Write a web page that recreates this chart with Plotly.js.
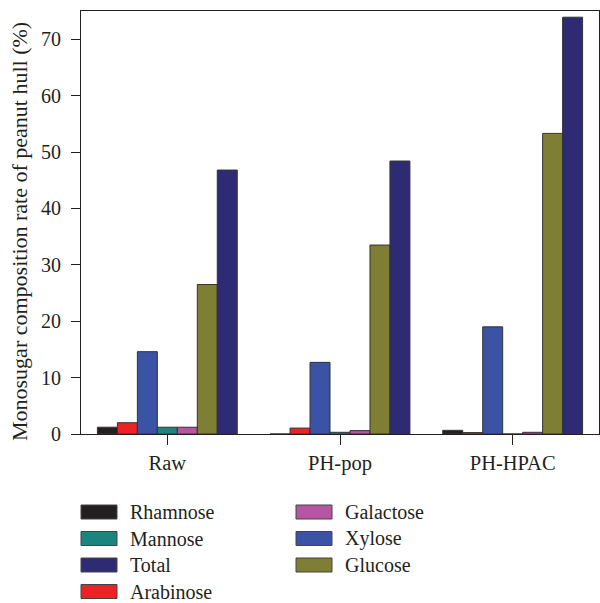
<!DOCTYPE html>
<html>
<head>
<meta charset="utf-8">
<script src="https://cdn.plot.ly/plotly-3.0.1.min.js"></script>
<style>html,body{margin:0;padding:0;background:#fff;}#chart{width:600px;height:603px;}</style>
</head>
<body>
<div id="chart"></div>
<script>
// ---- data ----
var groups = ["Raw", "PH-pop", "PH-HPAC"];
var seriesNames = ["Rhamnose", "Arabinose", "Xylose", "Mannose", "Galactose", "Glucose", "Total"];
var rhamnose  = [1.2, 0.0, 0.65];
var arabinose = [2.0, 1.05, 0.25];
var xylose    = [14.6, 12.7, 19.0];
var mannose   = [1.2, 0.3, 0.0];
var galactose = [1.2, 0.6, 0.3];
var glucose   = [26.5, 33.5, 53.3];
var total     = [46.8, 48.4, 73.9];
var seriesValues = [rhamnose, arabinose, xylose, mannose, galactose, glucose, total];
var seriesColors = ["#231f20", "#ec2227", "#3a53a4", "#1c847c", "#b655a3", "#7e7e34", "#2e2b74"];
var legendCol1 = ["Rhamnose", "Mannose", "Total", "Arabinose"];
var legendCol2 = ["Galactose", "Xylose", "Glucose"];
var yTicks = [0, 10, 20, 30, 40, 50, 60, 70];
var yTitle = "Monosugar composition rate of peanut hull (%)";

// ---- layout constants ----
var W = 600, H = 603;
var M = {l: 81, r: 1, t: 11, b: 169};
var FONT = "Liberation Serif, Times New Roman, serif";
var TXT = "#231f20";

var traces = seriesNames.map(function (n, i) {
  return {
    type: "bar", name: n, x: groups, y: seriesValues[i],
    marker: {color: seriesColors[i], line: {color: "#333333", width: 1}},
    showlegend: false, hoverinfo: "x+y+name"
  };
});

// helpers for pixel -> paper conversion (legend below plot)
var plotH = H - M.t - M.b, plotW = W - M.l - M.r;
function py(Y) { return (H - M.b - Y) / plotH; }
function px(X) { return (X - M.l) / plotW; }

var shapes = [], annotations = [];
function addLegend(names, swX, txX, rowY0) {
  names.forEach(function (n, k) {
    var idx = seriesNames.indexOf(n);
    var cy = rowY0 + k * 26.5;
    shapes.push({type: "rect", xref: "paper", yref: "paper",
      x0: px(swX), x1: px(swX + 36), y0: py(cy + 7), y1: py(cy - 7),
      fillcolor: seriesColors[idx], line: {color: "#444444", width: 1}});
    annotations.push({xref: "paper", yref: "paper", x: px(txX), y: py(cy),
      xanchor: "left", yanchor: "middle", showarrow: false, text: n, borderpad: 0,
      font: {family: FONT, size: 20, color: TXT}});
  });
}
addLegend(legendCol1, 81, 129, 512);
addLegend(legendCol2, 296, 344, 512);

// y-axis title as rotated annotation
annotations.push({xref: "paper", yref: "paper", x: px(19), y: py(232),
  xanchor: "center", yanchor: "middle", textangle: -90, showarrow: false,
  text: yTitle, borderpad: 0, font: {family: FONT, size: 22, color: TXT}});

var layout = {
  width: W, height: H,
  margin: M,
  paper_bgcolor: "#ffffff", plot_bgcolor: "#ffffff",
  barmode: "group", bargap: 0.19, bargroupgap: 0,
  font: {family: FONT, size: 20, color: TXT},
  xaxis: {
    type: "category", range: [-0.5, 2.5],
    showline: true, linecolor: TXT, linewidth: 1, mirror: true,
    ticks: "outside", ticklen: 10, tickwidth: 1, tickcolor: TXT,
    showgrid: false, zeroline: false,
    tickfont: {family: FONT, size: 20.5, color: TXT}
  },
  xaxis2: {
    overlaying: "x", anchor: "y", type: "linear", range: [-0.5, 2.5],
    tickmode: "array", tickvals: [0.5, 1.5], ticks: "outside", ticklen: 5,
    tickwidth: 1, tickcolor: TXT, showticklabels: false, showline: false,
    showgrid: false, zeroline: false
  },
  yaxis: {
    range: [0, 75], tickmode: "array", tickvals: yTicks,
    showline: true, linecolor: TXT, linewidth: 1, mirror: true,
    ticks: "outside", ticklen: 9, tickwidth: 1, tickcolor: TXT,
    ticklabelstandoff: 6,
    showgrid: false, zeroline: false,
    tickfont: {family: FONT, size: 20, color: TXT}
  },
  shapes: shapes,
  annotations: annotations
};

Plotly.newPlot("chart", traces, layout, {displayModeBar: false, staticPlot: true});
</script>
</body>
</html>
